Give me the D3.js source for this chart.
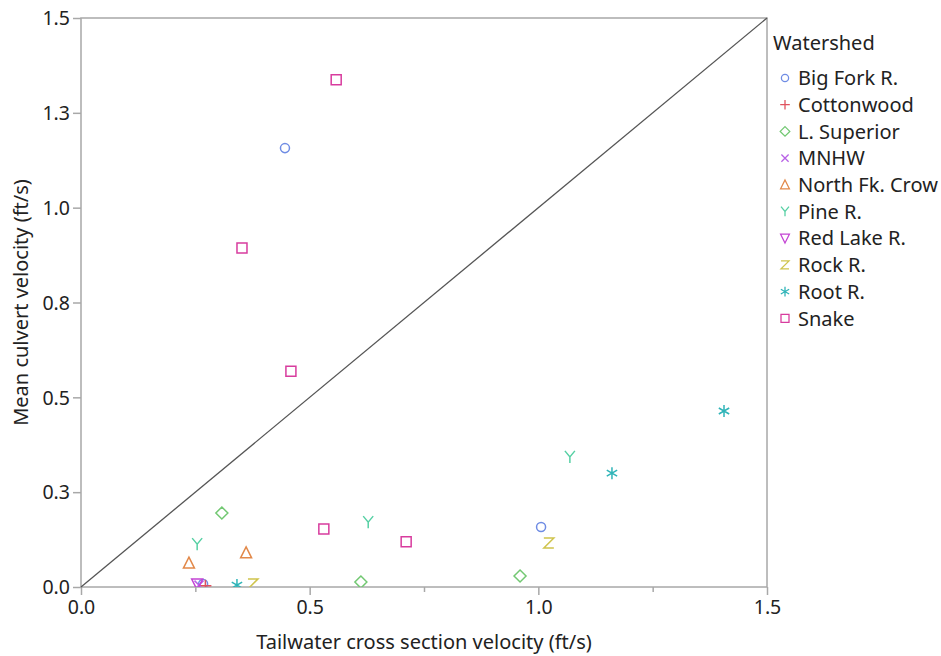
<!DOCTYPE html>
<html><head><meta charset="utf-8">
<script src="https://cdn.jsdelivr.net/npm/d3@7"></script>
<style>body{margin:0;background:#fff;} text{font-family:"Noto Sans","Open Sans",sans-serif;}</style>
</head><body><svg id="c" width="941" height="656"></svg>
<script>
const watersheds = ["Big Fork R.","Cottonwood","L. Superior","MNHW","North Fk. Crow","Pine R.","Red Lake R.","Rock R.","Root R.","Snake"];
const colors = ["#6f8ce4","#e0525e","#72c872","#b862e6","#e2894a","#56d0a4","#c444d4","#cfc44c","#2fb4b8","#d83c9e"];
const symbols = ["circle","plus","diamond","cross","triangle","Y","triangleDown","Z","asterisk","square"];
// each series: [tailwater velocity, mean culvert velocity]
const bigFork = [[0.446,1.157],[1.006,0.158],[0.267,0.008]];
const cottonwood = [[0.272,0.003]];
const lSuperior = [[0.308,0.195],[0.612,0.013],[0.960,0.029]];
const mnhw = [[0.258,0.005]];
const northFkCrow = [[0.236,0.063],[0.361,0.090]];
const pineR = [[0.254,0.113],[0.628,0.171],[1.069,0.343]];
const redLakeR = [[0.254,0.008]];
const rockR = [[0.376,0.008],[1.023,0.116]];
const rootR = [[0.341,0.005],[1.161,0.300],[1.406,0.464]];
const snake = [[0.558,1.337],[0.352,0.894],[0.459,0.569],[0.531,0.153],[0.711,0.119]];
const seriesValues = [bigFork,cottonwood,lSuperior,mnhw,northFkCrow,pineR,redLakeR,rockR,rootR,snake];
const xTicks = [0,0.5,1.0,1.5];
const xTickLabels = ["0.0","0.5","1.0","1.5"];
const xMinorTicks = [0.25,0.75,1.25];
const yTicks = [0,0.25,0.5,0.75,1.0,1.25,1.5];
const yTickLabels = ["0.0","0.3","0.5","0.8","1.0","1.3","1.5"];

const svg = d3.select("#c");
const L=81,R=767,T=18,B=587;
const x = d3.scaleLinear().domain([0,1.5]).range([L,R]);
const y = d3.scaleLinear().domain([0,1.5]).range([B,T]);

function markerPath(sym){
  switch(sym){
    case "circle": return d3.symbol(d3.symbolCircle,64)();
    case "square": return "M-5,-5H5V5H-5Z";
    case "diamond": return "M0,-6L6,0L0,6L-6,0Z";
    case "triangle": return "M0,-6L5.5,5L-5.5,5Z";
    case "triangleDown": return "M0,6L5.5,-5L-5.5,-5Z";
    case "plus": return "M-6,0H6M0,-6V6";
    case "cross": return "M-4.5,-4.5L4.5,4.5M-4.5,4.5L4.5,-4.5";
    case "Y": return "M-5,-6L0,0L5,-6M0,0V6";
    case "Z": return "M-5,-5H5L-5,5H5";
    case "asterisk": return "M0,-6V6M-5.2,-3L5.2,3M-5.2,3L5.2,-3";
  }
}

svg.append("clipPath").attr("id","clip").append("rect").attr("x",L).attr("y",T).attr("width",R-L).attr("height",B-T);

// frame
svg.append("rect").attr("x",L).attr("y",T).attr("width",R-L).attr("height",B-T).attr("fill","none").attr("stroke","#a8a8a8").attr("stroke-width",1.5);

// x axis
const xAxis = d3.axisBottom(x).tickValues(xTicks).tickFormat((d,i)=>xTickLabels[i]).tickSize(8).tickPadding(3).tickSizeOuter(0);
const gx = svg.append("g").attr("transform",`translate(0,${B})`).call(xAxis);
const gxm = svg.append("g").attr("transform",`translate(0,${B})`).call(d3.axisBottom(x).tickValues(xMinorTicks).tickFormat("").tickSize(5).tickSizeOuter(0));
// y axis
const yAxis = d3.axisLeft(y).tickValues(yTicks).tickFormat((d,i)=>yTickLabels[i]).tickSize(8).tickPadding(3).tickSizeOuter(0);
const gy = svg.append("g").attr("transform",`translate(${L},0)`).call(yAxis);
[gx,gxm,gy].forEach(g=>{
  g.select(".domain").remove();
  g.selectAll(".tick line").attr("stroke","#a8a8a8").attr("stroke-width",1.5);
  g.selectAll(".tick text").attr("fill","#222").style("font-size","19.5px");
});
gx.selectAll(".tick text").attr("dy","0.8em");
gy.selectAll(".tick text").attr("dy","0.35em");

// diagonal
svg.append("line").attr("x1",x(0)).attr("y1",y(0)).attr("x2",x(1.5)).attr("y2",y(1.5)).attr("stroke","#555").attr("stroke-width",1.3);

// points
const gp = svg.append("g").attr("clip-path","url(#clip)");
seriesValues.forEach((pts,i)=>{
  gp.selectAll(null).data(pts).enter().append("path")
    .attr("d",markerPath(symbols[i]))
    .attr("transform",d=>`translate(${x(d[0])},${y(d[1])})`)
    .attr("fill","none").attr("stroke",colors[i]).attr("stroke-width",1.5);
});

// axis titles
svg.append("text").attr("x",(L+R)/2).attr("y",649).attr("text-anchor","middle").attr("fill","#222").style("font-size","20px").text("Tailwater cross section velocity (ft/s)");
svg.append("text").attr("transform",`translate(28,${(T+B)/2}) rotate(-90)`).attr("text-anchor","middle").attr("fill","#222").style("font-size","20px").text("Mean culvert velocity (ft/s)");

// legend
const lg = svg.append("g");
lg.append("text").attr("x",773).attr("y",50).attr("fill","#222").style("font-size","20px").text("Watershed");
watersheds.forEach((w,i)=>{
  const cy = 78 + i*26.7;
  lg.append("path").attr("d",markerPath(symbols[i])).attr("transform",`translate(785,${cy}) scale(0.8)`)
    .attr("fill","none").attr("stroke",colors[i]).attr("stroke-width",1.6);
  lg.append("text").attr("x",798).attr("y",cy).attr("dy","0.36em").attr("fill","#222").style("font-size","20px").text(w);
});
</script></body></html>
